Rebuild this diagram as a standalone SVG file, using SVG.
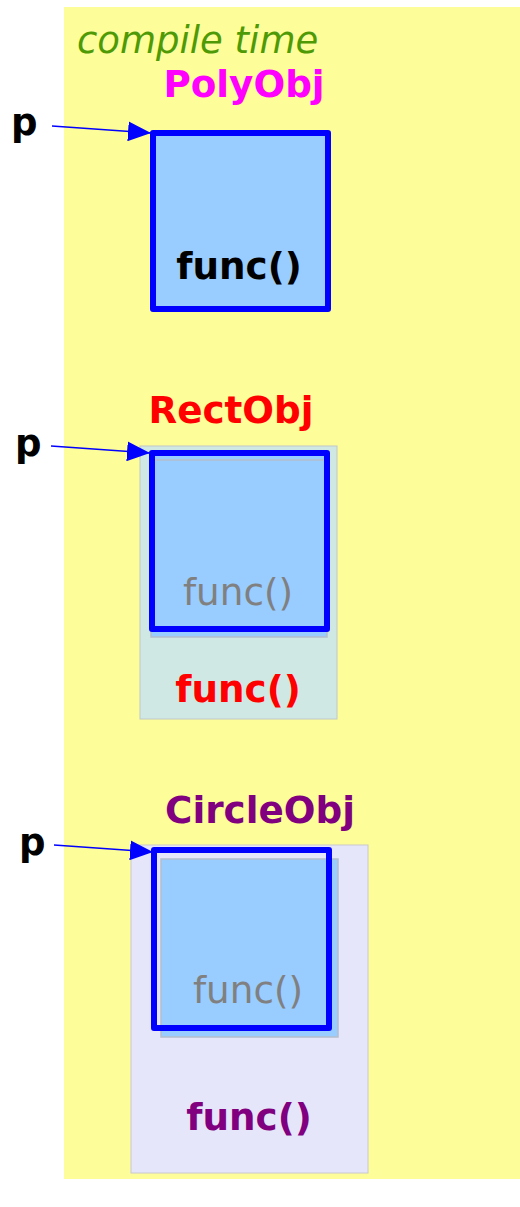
<svg xmlns="http://www.w3.org/2000/svg" width="520" height="1207" viewBox="0 0 520 1207">
  <style>
    .lbl { font-family: "DejaVu Sans", "Liberation Sans", sans-serif; font-size: 37.3px; text-anchor: middle; }
    .b { font-weight: bold; }
    .p { font-family: "DejaVu Sans", "Liberation Sans", sans-serif; font-size: 37px; font-weight: bold; fill: #000; }
    .box { fill: #99ccff; stroke: #0000ff; stroke-width: 6; stroke-linejoin: round; }
    .frame { fill: none; stroke: #0000ff; stroke-width: 6; stroke-linejoin: round; }
    .base { fill: #99ccff; stroke: #b4bfcc; stroke-width: 1.5; }
    .conn { stroke: #0000ff; stroke-width: 1.6; fill: none; }
  </style>
  <defs>
    <marker id="ah" markerUnits="userSpaceOnUse" markerWidth="24" markerHeight="20" refX="23" refY="10" orient="auto" viewBox="0 0 24 20">
      <path d="M0,0 L23,10 L0,20 z" fill="#0000ff"/>
    </marker>
  </defs>

  <rect id="compile-time-bg" x="64" y="7" width="456" height="1172" fill="#fdfd99"/>
  <text x="77" y="53" style="font-family:'DejaVu Sans','Liberation Sans',sans-serif;font-size:37px;font-style:italic;fill:#4e9a06">compile time</text>

  <g id="PolyObj">
    <text class="lbl b" x="244" y="97" fill="#ff00ff">PolyObj</text>
    <rect class="box" x="153" y="133" width="175" height="176"/>
    <text class="lbl b" x="239" y="279" fill="#000000">func()</text>
  </g>

  <g id="RectObj">
    <text class="lbl b" x="231" y="423" fill="#ff0000">RectObj</text>
    <rect x="140" y="446" width="197" height="273" fill="#d0e8e4" stroke="#c0c8c8" stroke-width="1"/>
    <rect x="151" y="452" width="177" height="180" fill="#99ccff"/>
    <rect class="base" x="151" y="460" width="176" height="177"/>
    <rect class="frame" x="152" y="453" width="175" height="176"/>
    <text class="lbl" x="238" y="605" fill="#808080">func()</text>
    <text class="lbl b" x="238" y="702" fill="#ff0000">func()</text>
  </g>

  <g id="CircleObj">
    <text class="lbl b" x="260" y="823" fill="#800080">CircleObj</text>
    <rect x="131" y="845" width="237" height="328" fill="#e6e6fa" stroke="#c8c8d0" stroke-width="1"/>
    <rect class="base" x="161" y="859" width="177" height="178"/>
    <rect class="frame" x="154" y="850" width="175" height="178"/>
    <text class="lbl" x="248" y="1003" fill="#808080">func()</text>
    <text class="lbl b" x="249" y="1130" fill="#800080">func()</text>
  </g>

  <g id="pointers">
    <text class="p" x="11" y="135">p</text>
    <text class="p" x="15" y="456">p</text>
    <text class="p" x="19" y="855">p</text>
  </g>

  <g id="connectors">
    <line class="conn" x1="52" y1="126" x2="151" y2="133" marker-end="url(#ah)"/>
    <line class="conn" x1="51" y1="446" x2="150" y2="453" marker-end="url(#ah)"/>
    <line class="conn" x1="54" y1="845" x2="153" y2="852" marker-end="url(#ah)"/>
  </g>
</svg>
